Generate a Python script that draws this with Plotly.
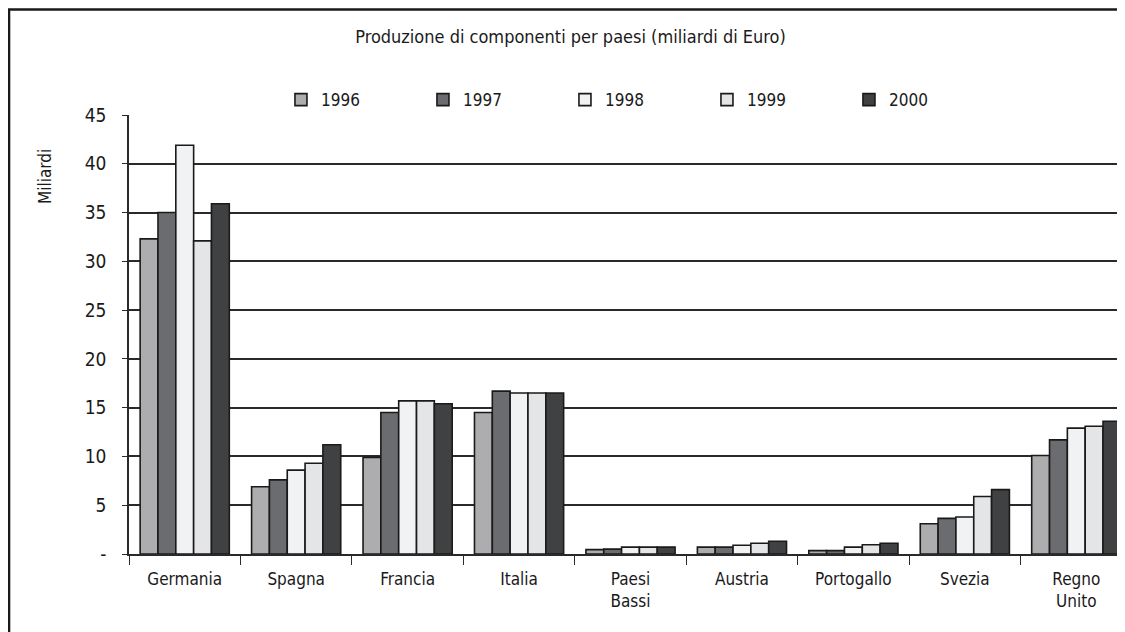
import plotly.graph_objects as go

countries = ["Germania", "Spagna", "Francia", "Italia", "Paesi<br>Bassi", "Austria",
             "Portogallo", "Svezia", "Regno<br>Unito"]
years = ["1996", "1997", "1998", "1999", "2000"]
v1996 = [32.3, 6.9, 9.9, 14.5, 0.45, 0.7, 0.35, 3.1, 10.1]
v1997 = [35.0, 7.6, 14.5, 16.7, 0.5, 0.7, 0.35, 3.65, 11.7]
v1998 = [41.9, 8.6, 15.7, 16.5, 0.7, 0.9, 0.7, 3.8, 12.9]
v1999 = [32.1, 9.3, 15.7, 16.5, 0.7, 1.1, 0.95, 5.9, 13.1]
v2000 = [35.9, 11.2, 15.4, 16.5, 0.7, 1.3, 1.1, 6.6, 13.6]
series = [v1996, v1997, v1998, v1999, v2000]
colors = ["#adadb0", "#6b6c70", "#f1f2f4", "#e4e5e7", "#404142"]
ytickvals = [0, 5, 10, 15, 20, 25, 30, 35, 40, 45]
yticktext = ["-", "5", "10", "15", "20", "25", "30", "35", "40", "45"]

FONT = "DejaVu Sans Condensed, Liberation Sans Narrow, Arial Narrow, sans-serif"

fig = go.Figure()
for y, vals, c in zip(years, series, colors):
    fig.add_trace(go.Bar(x=countries, y=vals, name=y,
                         marker=dict(color=c, line=dict(color="#1a1a1a", width=1.6))))

fig.update_layout(
    width=1125, height=632,
    margin=dict(l=121, r=1, t=107, b=86, autoexpand=False),
    paper_bgcolor="white", plot_bgcolor="white",
    font=dict(family=FONT, size=17, color="#1a1a1a"),
    barmode="group", bargap=0.2, bargroupgap=0,
    title=dict(text="Produzione di componenti per paesi (miliardi di Euro)",
               x=0.5, xanchor="center", y=0.954, yanchor="middle",
               font=dict(family=FONT, size=18, color="#1a1a1a")),
    legend=dict(orientation="h", x=0.1515, xanchor="left", y=1.034, yanchor="middle",
                entrywidth=97, entrywidthmode="pixels", bgcolor="rgba(0,0,0,0)",
                itemwidth=30, font=dict(family=FONT, size=17, color="#1a1a1a")),
    showlegend=True,
)
fig.update_yaxes(range=[0, 45], tickvals=ytickvals, ticktext=yticktext,
                 showgrid=True, gridcolor="#2a2a2a", gridwidth=1.5,
                 showline=True, linecolor="#2a2a2a", linewidth=1.5,
                 ticks="outside", ticklen=5, tickcolor="#2a2a2a", ticklabelstandoff=12,
                 tickfont=dict(family=FONT, size=19), zeroline=False)
fig.update_xaxes(showline=True, linecolor="#2a2a2a", linewidth=1.5,
                 ticks="outside", tickson="boundaries", ticklen=9, tickcolor="#2a2a2a",
                 ticklabelstandoff=9, tickfont=dict(family=FONT, size=17))
fig.add_annotation(text="Miliardi", xref="paper", yref="paper",
                   x=-0.0837, y=0.859, xanchor="center", yanchor="middle",
                   textangle=-90, showarrow=False,
                   font=dict(family=FONT, size=17, color="#1a1a1a"))
fig.add_shape(type="rect", xref="paper", yref="paper",
              x0=-0.1196, x1=1.05, y0=-0.3, y1=1.2403,
              line=dict(color="#1a1a1a", width=2.5), fillcolor="rgba(0,0,0,0)", layer="below")
fig.write_html("out.html")
